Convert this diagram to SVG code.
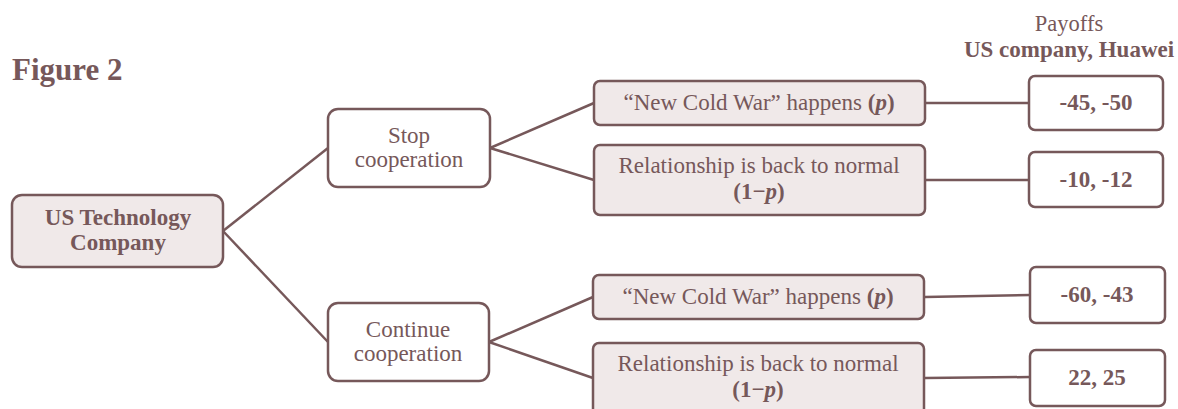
<svg xmlns="http://www.w3.org/2000/svg" width="1178" height="409" viewBox="0 0 1178 409">
<style>
.box{stroke:#76585a;stroke-width:2.5;}
.f{fill:#f0e9e9;}
.w{fill:#ffffff;}
text{font-family:"Liberation Serif","Times New Roman",serif;fill:#76585a;font-size:23px;text-anchor:middle;}
.b{font-weight:bold;}
.c line{stroke:#76585a;stroke-width:2.5;}
</style>
<rect width="1178" height="409" fill="#ffffff"/>
<text x="12" y="80" class="b" style="font-size:31px;text-anchor:start">Figure 2</text>
<text x="1069" y="31" style="font-size:22.5px">Payoffs</text>
<text x="1069" y="57" class="b">US company, Huawei</text>
<g class="c" id="connectors">
<line x1="223" y1="231" x2="328" y2="148"/>
<line x1="223" y1="231" x2="328" y2="342"/>
<line x1="490" y1="148" x2="594" y2="103"/>
<line x1="490" y1="148" x2="594" y2="180"/>
<line x1="489" y1="342" x2="593" y2="297"/>
<line x1="489" y1="342" x2="593" y2="378"/>
<line x1="925" y1="103" x2="1029" y2="103"/>
<line x1="925" y1="180" x2="1029" y2="180"/>
<line x1="925" y1="297" x2="1030" y2="295"/>
<line x1="925" y1="378" x2="1030" y2="377"/>
</g>
<g id="root"><rect class="box f" x="12" y="195" width="211" height="72" rx="10"/><text x="118" y="225" class="b">US Technology</text><text x="118" y="250" class="b">Company</text></g>
<g id="stop"><rect class="box w" x="328" y="109" width="162" height="78" rx="10"/><text x="409" y="143">Stop</text><text x="409" y="167">cooperation</text></g>
<g id="continue"><rect class="box w" x="328" y="303" width="161" height="78" rx="10"/><text x="408" y="337">Continue</text><text x="408" y="361">cooperation</text></g>
<g id="cw1"><rect class="box f" x="594" y="81" width="331" height="44" rx="6"/><text x="759" y="110">“New Cold War” happens <tspan class="b">(<tspan font-style="italic">p</tspan>)</tspan></text></g>
<g id="rn1"><rect class="box f" x="594" y="145" width="331" height="70" rx="6"/><text x="759" y="173">Relationship is back to normal</text><text x="759" y="199" class="b">(1−<tspan font-style="italic">p</tspan>)</text></g>
<g id="cw2"><rect class="box f" x="593" y="275" width="331" height="44" rx="6"/><text x="758" y="304">“New Cold War” happens <tspan class="b">(<tspan font-style="italic">p</tspan>)</tspan></text></g>
<g id="rn2"><rect class="box f" x="593" y="343" width="331" height="72" rx="6"/><text x="758" y="371">Relationship is back to normal</text><text x="758" y="397" class="b">(1−<tspan font-style="italic">p</tspan>)</text></g>
<g id="p1"><rect class="box w" x="1029" y="76" width="134" height="54" rx="6"/><text x="1096" y="110" class="b">-45, -50</text></g>
<g id="p2"><rect class="box w" x="1029" y="152" width="134" height="55" rx="6"/><text x="1096" y="187" class="b">-10, -12</text></g>
<g id="p3"><rect class="box w" x="1030" y="267" width="135" height="56" rx="6"/><text x="1097" y="302" class="b">-60, -43</text></g>
<g id="p4"><rect class="box w" x="1030" y="350" width="135" height="56" rx="6"/><text x="1097" y="385" class="b">22, 25</text></g>
</svg>
